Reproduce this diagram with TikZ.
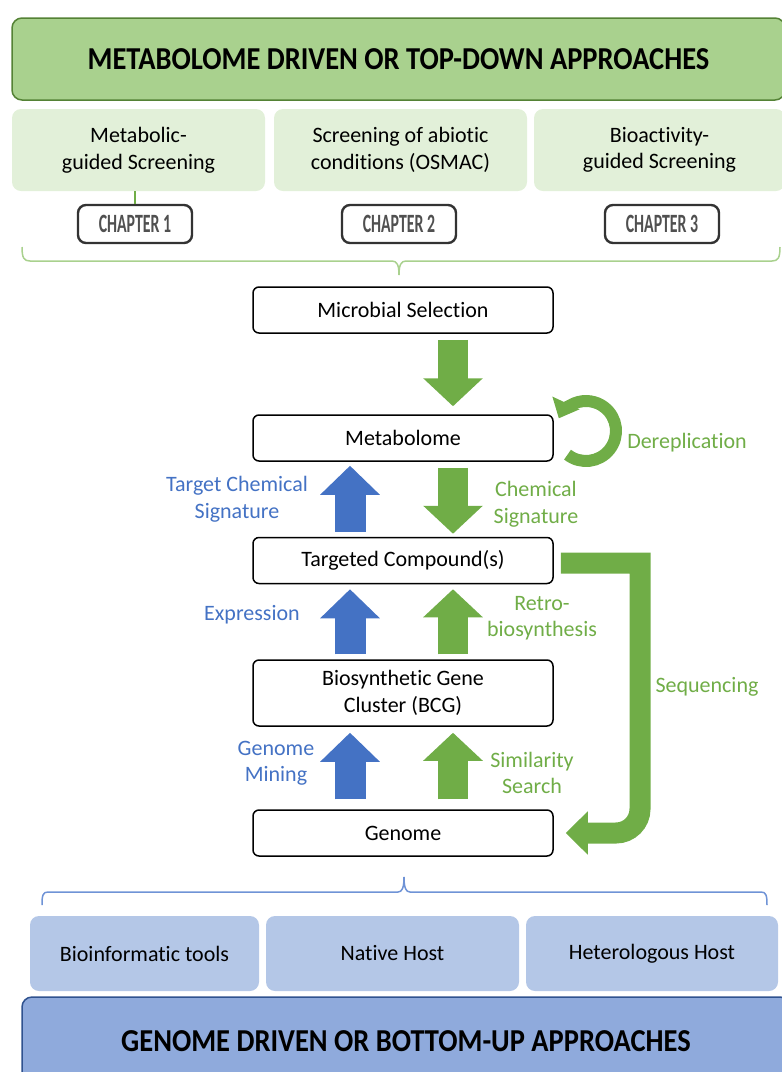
\documentclass[tikz,border=0pt]{standalone}
\usepackage{fontspec}
\setmainfont{Carlito}[Ligatures=NoCommon]
\usetikzlibrary{arrows.meta,calc}
\definecolor{gA}{HTML}{70AD47}
\definecolor{gTitle}{HTML}{A9D18E}
\definecolor{gTitleB}{HTML}{548235}
\definecolor{gLight}{HTML}{E2F0D9}
\definecolor{gBrace}{HTML}{A9D18E}
\definecolor{bA}{HTML}{4472C4}
\definecolor{bTitle}{HTML}{8FAADC}
\definecolor{bTitleB}{HTML}{2F528F}
\definecolor{bLight}{HTML}{B4C7E7}
\definecolor{bBrace}{HTML}{6F93D6}
\definecolor{badgeTxt}{HTML}{505050}
\begin{document}
\begin{tikzpicture}[x=1pt,y=-1pt,
  txt/.style={font=\fontsize{22}{26.5}\selectfont, align=center, inner sep=0pt},
  box/.style={txt, draw=black, line width=1.5pt, rounded corners=6pt, fill=white, minimum width=300pt, minimum height=46pt},
  titlebox/.style={rounded corners=10pt, line width=1.5pt, inner sep=0pt, font=\fontsize{28.5}{30}\selectfont\bfseries},
  lgbox/.style={txt, fill=gLight, rounded corners=9pt, minimum height=82pt},
  lbbox/.style={txt, fill=bLight, rounded corners=9pt, minimum height=75pt},
  badge/.style={draw=black!80, line width=2.4pt, rounded corners=8pt, fill=white, minimum width=114pt, minimum height=38pt, inner sep=0pt, text=badgeTxt, font=\fontsize{22}{24}\selectfont\bfseries},
  glabel/.style={txt, text=gA},
  blabel/.style={txt, text=bA},
  garr/.style={gA, line width=30pt, -{Triangle[width=58pt,length=28pt]}},
  barr/.style={bA, line width=31pt, -{Triangle[width=58pt,length=29pt]}},
]
\useasboundingbox (0,0) rectangle (782,1072);
\clip (0,0) rectangle (782,1072);

% top title and boxes
\node[titlebox, draw=gTitleB, fill=gTitle, minimum width=773pt, minimum height=82pt] (ttl) at (398.5,59) {\scalebox{1}[1.12]{METABOLOME DRIVEN OR TOP-DOWN APPROACHES}};
\node[lgbox, minimum width=253pt] (lg1) at (138.5,150) {Metabolic-\\guided Screening};
\node[lgbox, minimum width=253pt] (lg2) at (400.5,150) {Screening of abiotic\\conditions (OSMAC)};
\node[lgbox, minimum width=251pt] (lg3) at (659.5,150) {Bioactivity-\\guided Screening};
\node[badge] (b1) at (135,224) {\scalebox{0.72}[1.2]{CHAPTER 1}};
\node[badge] (b2) at (399,224) {\scalebox{0.72}[1.2]{CHAPTER 2}};
\node[badge] (b3) at (662,224) {\scalebox{0.72}[1.2]{CHAPTER 3}};
\draw[gA, line width=1.5pt] (b1.north) -- (b1.north |- lg1.south);

% green brace
\draw[gBrace, line width=1.5pt] (22,247) .. controls (22,258) and (24,261) .. (30,261) -- (392,261) .. controls (397,261) and (399,265) .. (399,275)
  .. controls (399,265) and (401,261) .. (406,261) -- (772,261) .. controls (778,261) and (780,258) .. (780,247);

% main column
\node[box] (ms) at (403,310) {Microbial Selection};
\node[box] (met) at (403,438) {Metabolome};
\node[box] (tc) at (403,560.5) {Targeted Compound(s)};
\node[box, minimum height=66pt] (bcg) at (403,693) {Biosynthetic Gene\\Cluster (BCG)};
\node[box] (gen) at (403,833) {Genome};

% block arrows
\draw[garr] ($(ms.south)+(50,6)$) -- ($(met.north)+(50,-8)$);
\draw[barr] ($(tc.north)+(-53,-5)$) -- ($(met.south)+(-53,4)$);
\draw[garr] ($(met.south)+(50,6)$) -- ($(tc.north)+(50,-3)$);
\draw[barr] ($(bcg.north)+(-53,-5)$) -- ($(tc.south)+(-53,5)$);
\draw[garr] ($(bcg.north)+(50,-5)$) -- ($(tc.south)+(50,5)$);
\draw[barr] ($(gen.north)+(-53,-10)$) -- ($(bcg.south)+(-53,6)$);
\draw[garr] ($(gen.north)+(50,-10)$) -- ($(bcg.south)+(50,6)$);

% dereplication loop
\draw[gA, line width=12pt, -{Triangle[width=29pt,length=17pt]}] (586,431) ++(128:30) arc[start angle=128, end angle=-155, radius=30];

% sequencing arrow
\coordinate (sqs) at ($(tc.east)+(7,2.5)$);
\coordinate (sqe) at ($(gen.east)+(12,0)$);
\draw[gA, line width=21pt, line join=miter, -{Triangle[width=42pt,length=22pt]}] (sqs) -- (640,563) -- (640,809) arc[start angle=0, end angle=90, radius=24] -- (sqe);

% labels
\node[blabel] (l1) at (237,499) {Target Chemical\\Signature};
\node[glabel] (l2) at (536,504) {Chemical\\Signature};
\node[glabel] (l3) at (687,443) {Dereplication};
\node[blabel] (l4) at (252,615) {Expression};
\node[glabel] (l5) at (542,618) {Retro-\\biosynthesis};
\node[glabel] (l6) at (707,687) {Sequencing};
\node[blabel] (l7) at (276,763) {Genome\\Mining};
\node[glabel] (l8) at (532,773) {Similarity\\Search};

% blue brace
\draw[bBrace, line width=1.5pt] (42,905) .. controls (42,895) and (43,892) .. (48,892) -- (398,892) .. controls (402,892) and (404,888) .. (404,877)
  .. controls (404,888) and (406,892) .. (410,892) -- (761,892) .. controls (766,892) and (767,895) .. (767,905);

% bottom boxes and title
\node[lbbox, minimum width=229pt] (lb1) at (144.5,953.5) {Bioinformatic tools};
\node[lbbox, minimum width=253pt] (lb2) at (392.5,953.5) {Native Host};
\node[lbbox, minimum width=252pt] (lb3) at (652,953.5) {Heterologous Host};
\node[titlebox, draw=bTitleB, fill=bTitle, minimum width=768pt, minimum height=88pt] (btl) at (406,1041) {\scalebox{1}[1.12]{GENOME DRIVEN OR BOTTOM-UP APPROACHES}};
\end{tikzpicture}
\end{document}
